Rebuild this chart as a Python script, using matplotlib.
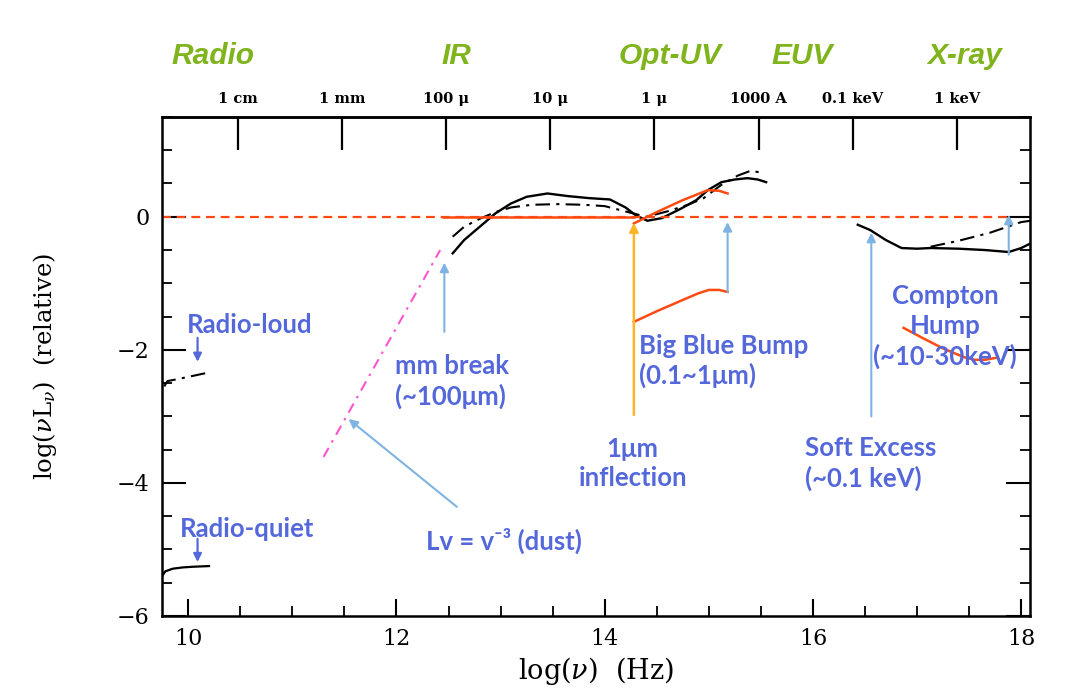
import matplotlib
matplotlib.use("Agg")
import matplotlib.pyplot as plt
import numpy as np

# ---- SED curves: log(nu) [Hz] vs log(nu L_nu) (relative) ----
radio_loud_x = [9.77, 9.80, 9.90, 10.05, 10.17]
radio_loud_y = [-2.55, -2.47, -2.44, -2.39, -2.35]

radio_quiet_x = [9.75, 9.78, 9.85, 9.95, 10.05, 10.20]
radio_quiet_y = [-5.40, -5.33, -5.29, -5.27, -5.26, -5.25]

solid_ir_x = [12.54, 12.65, 12.80, 12.95, 13.10, 13.25, 13.45, 13.65, 13.85, 14.05, 14.20, 14.30, 14.41,
              14.55, 14.73, 14.88, 14.99, 15.12, 15.25, 15.37, 15.47, 15.55]
solid_ir_y = [-0.55, -0.35, -0.15, 0.05, 0.20, 0.30, 0.35, 0.31, 0.28, 0.26, 0.14, 0.02, -0.06,
              -0.02, 0.12, 0.25, 0.40, 0.52, 0.56, 0.58, 0.56, 0.52]

dashdot_ir_x = [12.54, 12.65, 12.80, 12.95, 13.10, 13.30, 13.55, 13.80, 14.00, 14.20, 14.40,
                14.60, 14.80, 14.95, 15.12, 15.28, 15.40, 15.52]
dashdot_ir_y = [-0.30, -0.15, -0.03, 0.07, 0.14, 0.18, 0.19, 0.18, 0.16, 0.08, 0.00,
                0.08, 0.18, 0.28, 0.48, 0.62, 0.69, 0.66]

solid_x_x = [16.43, 16.55, 16.70, 16.85, 17.00, 17.13, 17.40, 17.65, 17.88, 18.00, 18.09]
solid_x_y = [-0.12, -0.20, -0.35, -0.47, -0.48, -0.47, -0.48, -0.50, -0.53, -0.47, -0.40]

dashdot_x_x = [17.13, 17.40, 17.70, 18.00, 18.09]
dashdot_x_y = [-0.45, -0.36, -0.24, -0.08, -0.06]

# ---- Model components (orange-red) ----
flat_solid_x = [12.45, 14.28]
flat_dash_x = [9.75, 17.90]
flat_level = 0.0

bbb_upper_x = [14.28, 14.50, 14.75, 14.99, 15.10, 15.18]
bbb_upper_y = [-0.10, 0.07, 0.25, 0.40, 0.39, 0.35]

bbb_lower_x = [14.28, 14.50, 14.75, 14.90, 15.00, 15.10, 15.18]
bbb_lower_y = [-1.58, -1.42, -1.25, -1.15, -1.10, -1.10, -1.13]

compton_x = [16.87, 17.05, 17.25, 17.45, 17.55, 17.65, 17.76]
compton_y = [-1.67, -1.82, -1.98, -2.11, -2.15, -2.15, -2.12]

dust_x = [11.30, 12.42]
dust_y = [-3.61, -0.50]

# ---- Axis labelling ----
x_major = [10, 12, 14, 16, 18]
y_major = [-6, -4, -2, 0]
top_tick_pos = [10.477, 11.477, 12.477, 13.477, 14.477, 15.477, 16.383, 17.383]
top_tick_labels = ["1 cm", "1 mm", "100 \u03bc", "10 \u03bc", "1 \u03bc", "1000 A", "0.1 keV", "1 keV"]
band_names = ["Radio", "IR", "Opt-UV", "EUV", "X-ray"]
band_pos = [10.24, 12.58, 14.63, 15.90, 17.46]

ORANGE = "#ff4a12"
LBLUE = "#7eb3e2"
DBLUE = "#5468dc"
AMBER = "#ffb526"
PINK = "#ff55d0"
GREEN = "#80b41c"

plt.rcParams["mathtext.fontset"] = "dejavuserif"

fig = plt.figure(figsize=(10.81, 6.88), dpi=100)
ax = fig.add_axes([0.150, 0.1047, 0.803, 0.7253])
ax.set_xlim(9.75, 18.086)
ax.set_ylim(-6, 1.5)

for s in ax.spines.values():
    s.set_linewidth(1.8)

dd = (0, (7, 3, 1.5, 3))
ax.plot(radio_loud_x, radio_loud_y, color="black", lw=1.5, ls=dd)
ax.plot(radio_quiet_x, radio_quiet_y, color="black", lw=1.6)
ax.plot(solid_ir_x, solid_ir_y, color="black", lw=1.7)
ax.plot(dashdot_ir_x, dashdot_ir_y, color="black", lw=1.5, ls=dd)
ax.plot(solid_x_x, solid_x_y, color="black", lw=1.7)
ax.plot(dashdot_x_x, dashdot_x_y, color="black", lw=1.5, ls=dd)

ax.plot(flat_dash_x, [flat_level, flat_level], color=ORANGE, lw=1.6, ls=(0, (4, 2.6)))
ax.plot(flat_solid_x, [flat_level, flat_level], color=ORANGE, lw=1.8)
ax.plot(bbb_upper_x, bbb_upper_y, color=ORANGE, lw=1.8)
ax.plot(bbb_lower_x, bbb_lower_y, color=ORANGE, lw=1.8)
ax.plot(compton_x, compton_y, color=ORANGE, lw=1.8)
ax.plot(dust_x, dust_y, color=PINK, lw=1.5, ls=(0, (5, 3, 1.2, 3)))


def arrow(x0, y0, x1, y1, color, lw=1.5, ms=13):
    ax.annotate("", xy=(x1, y1), xytext=(x0, y0),
                arrowprops=dict(arrowstyle="-|>", color=color, lw=lw,
                                mutation_scale=ms, shrinkA=0, shrinkB=0))


arrow(12.46, -1.73, 12.46, -0.69, LBLUE)
arrow(12.58, -4.36, 11.54, -3.04, LBLUE)
arrow(14.28, -2.98, 14.28, -0.09, AMBER, lw=1.8)
arrow(15.18, -1.13, 15.18, -0.08, LBLUE)
arrow(16.56, -3.00, 16.56, -0.24, LBLUE)
arrow(17.88, -0.57, 17.88, 0.03, LBLUE)
arrow(10.09, -1.82, 10.09, -2.18, DBLUE, lw=1.6, ms=12)
arrow(10.09, -4.84, 10.09, -5.19, DBLUE, lw=1.6, ms=12)

tfont = dict(family=["Lato", "DejaVu Sans"], fontsize=18.5, fontweight="bold", color=DBLUE)
ax.text(9.99, -1.62, "Radio-loud", ha="left", va="center", **tfont)
ax.text(9.92, -4.69, "Radio-quiet", ha="left", va="center", **tfont)
ax.text(11.99, -2.48, "mm break\n(~100\u03bcm)", ha="left", va="center", linespacing=1.25, **tfont)
ax.text(12.28, -4.87, "Lv = v\u207b\u00b3 (dust)", ha="left", va="center", **tfont)
ax.text(14.27, -3.71, "1\u03bcm\ninflection", ha="center", va="center", linespacing=1.25, **tfont)
ax.text(14.33, -2.17, "Big Blue Bump\n(0.1~1\u03bcm)", ha="left", va="center", linespacing=1.25, **tfont)
ax.text(15.92, -3.71, "Soft Excess\n(~0.1 keV)", ha="left", va="center", linespacing=1.25, **tfont)
ax.text(17.27, -1.65, "Compton\nHump\n(~10-30keV)", ha="center", va="center", linespacing=1.3, **tfont)

serif = "DejaVu Serif"
ax.set_xticks(x_major)
ax.set_xticks(np.arange(10, 18.01, 0.5), minor=True)
ax.set_yticks(y_major)
ax.set_yticks(np.arange(-6, 1.51, 0.5), minor=True)
ax.tick_params(which="major", direction="in", length=12, width=1.5, right=True, top=False,
               labelsize=16, pad=9)
ax.tick_params(which="minor", direction="in", length=7, width=1.3, right=True, top=False)
ax.tick_params(axis="y", which="major", length=17)
for lab in ax.get_xticklabels() + ax.get_yticklabels():
    lab.set_family(serif)
ax.set_yticklabels(["\u22126", "\u22124", "\u22122", "0"])

ax.set_xlabel(r"log($\nu$)  (Hz)", family=serif, fontsize=19.5, labelpad=3)
ax.set_ylabel(r"log($\nu$L$_\nu$)  (relative)", family=serif, fontsize=17.5, labelpad=42)

top = ax.secondary_xaxis("top")
top.set_xticks(top_tick_pos)
top.set_xticklabels(top_tick_labels)
top.tick_params(direction="in", length=24, width=1.6, labelsize=10.5, pad=8)
for lab in top.get_xticklabels():
    lab.set_family(serif)
    lab.set_fontweight("bold")
top.spines["top"].set_linewidth(1.8)

trans = matplotlib.transforms.blended_transform_factory(ax.transData, fig.transFigure)
for name, xp in zip(band_names, band_pos):
    ax.text(xp, 0.918, name, transform=trans, ha="center", va="center",
            family="Liberation Sans", fontsize=21.5, fontweight="bold", style="italic", color=GREEN)

fig.savefig("out.png", dpi=100, facecolor="white")
